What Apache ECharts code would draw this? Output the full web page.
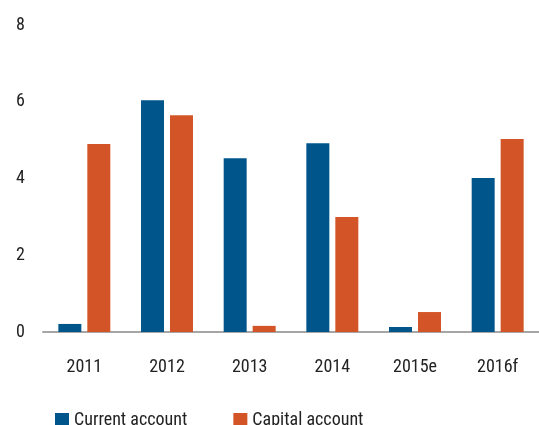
<!DOCTYPE html>
<html>
<head>
<meta charset="utf-8">
<script src="https://cdn.jsdelivr.net/npm/echarts@6/dist/echarts.min.js"></script>
<style>
  html, body { margin: 0; padding: 0; background: #fff; }
  #chart { width: 539px; height: 425px; }
</style>
</head>
<body>
<div id="chart"></div>
<script>
// categories and values
const years = ['2011', '2012', '2013', '2014', '2015e', '2016f']
const currentAccount = [0.21, 6.04, 4.53, 4.92, 0.13, 4.01]
const capitalAccount = [4.9, 5.65, 0.16, 3.0, 0.52, 5.03]
const yTicks = { min: 0, max: 8, interval: 2 }

const font = '"Liberation Sans Narrow", "Roboto Condensed", Roboto, sans-serif'

const chart = echarts.init(document.getElementById('chart'))

const option = {
  animation: false,
  textStyle: { fontFamily: font },
  grid: {
    left: 43,
    right: 0,
    top: 25,
    bottom: 93
  },
  legend: {
    top: 406,
    left: 50,
    itemWidth: 14,
    itemHeight: 14,
    itemGap: 46,
    icon: 'rect',
    textStyle: { fontSize: 18, color: '#222', fontFamily: font },
    data: ['Current account', 'Capital account']
  },
  xAxis: {
    type: 'category',
    data: years,
    axisTick: { show: false },
    axisLine: { lineStyle: { color: '#a6a6a6', width: 2 } },
    axisLabel: { fontSize: 18, color: '#222', margin: 26, fontFamily: font }
  },
  yAxis: {
    type: 'value',
    min: yTicks.min,
    max: yTicks.max,
    interval: yTicks.interval,
    splitLine: { show: false },
    axisLine: { show: false },
    axisTick: { show: false },
    axisLabel: { fontSize: 18, color: '#222', margin: 18, fontFamily: font }
  },
  series: [
    {
      name: 'Current account',
      type: 'bar',
      data: currentAccount,
      barWidth: 23,
      barGap: '26%',
      itemStyle: { color: '#00568b' }
    },
    {
      name: 'Capital account',
      type: 'bar',
      data: capitalAccount,
      barWidth: 23,
      itemStyle: { color: '#d35426' }
    }
  ]
}

chart.setOption(option)
</script>
</body>
</html>
